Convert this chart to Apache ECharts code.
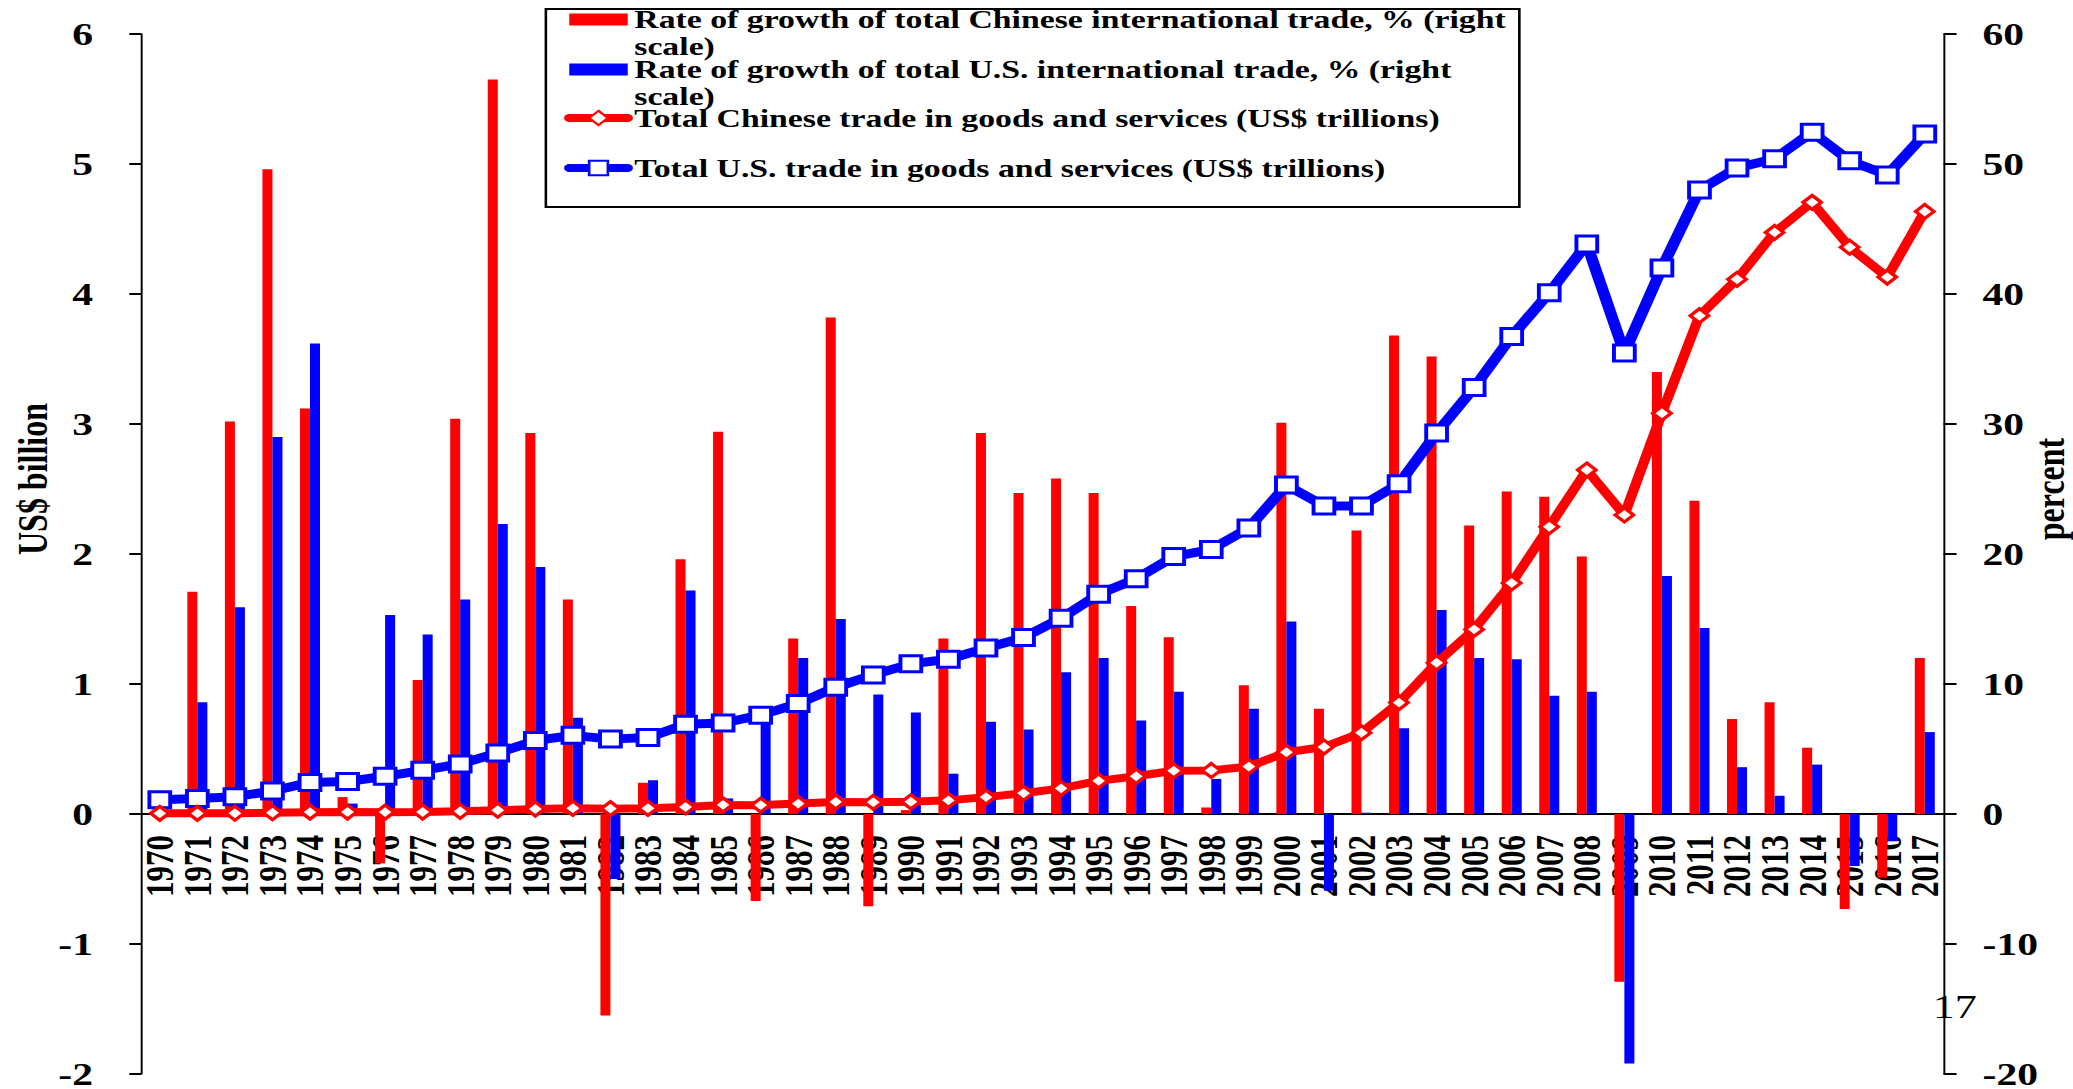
<!DOCTYPE html>
<html>
<head>
<meta charset="utf-8">
<title>China and U.S. trade</title>
<script src="https://cdn.jsdelivr.net/npm/echarts@6/dist/echarts.min.js"></script>
<style>
    html, body {
        margin: 0;
        padding: 0;
        background: #fff;
        overflow: hidden;
    }
    /* the original picture is stretched sideways, so the chart is drawn narrow and widened */
    #chart {
        width: 1595px;
        height: 1089px;
        transform: scaleX(1.2997);
        transform-origin: 0 0;
    }
</style>
</head>
<body>
<div id="chart"></div>
<script>
var years = [];
for (let y = 1970; y <= 2017; y++) {
    years.push(String(y));
}

// growth rates, % (right scale)
var chinaGrowth = [null, 17.1, 30.2, 49.6, 31.2, 1.3, -3.8, 10.3, 30.4, 56.5,
    29.3, 16.5, -15.5, 2.4, 19.6, 29.4, -6.7, 13.5, 38.2, -7.1,
    0.3, 13.5, 29.3, 24.7, 25.8, 24.7, 16.0, 13.6, 0.5, 9.9,
    30.1, 8.1, 21.8, 36.8, 35.2, 22.2, 24.8, 24.4, 19.8, -12.9,
    34.0, 24.1, 7.3, 8.6, 5.1, -7.3, -4.9, 12.0];
var usGrowth = [null, 8.6, 15.9, 29.0, 36.2, 0.8, 15.3, 13.8, 16.5, 22.3,
    19.0, 7.4, -5.0, 2.6, 17.2, 1.2, 7.5, 12.0, 15.0, 9.2,
    7.8, 3.1, 7.1, 6.5, 10.9, 12.0, 7.2, 9.4, 2.7, 8.1,
    14.8, -5.9, 0.1, 6.6, 15.7, 12.0, 11.9, 9.1, 9.4, -19.2,
    18.3, 14.3, 3.6, 1.4, 3.8, -4.0, -2.1, 6.3];

// totals, US$ trillions (left scale)
var chinaTotal = [0.005, 0.005, 0.006, 0.01, 0.014, 0.015, 0.014, 0.015, 0.021, 0.029,
    0.038, 0.044, 0.041, 0.044, 0.054, 0.07, 0.068, 0.08, 0.093, 0.09,
    0.094, 0.105, 0.13, 0.16, 0.197, 0.255, 0.29, 0.333, 0.335, 0.365,
    0.475, 0.515, 0.625, 0.857, 1.163, 1.42, 1.777, 2.21, 2.646, 2.30,
    3.083, 3.833, 4.113, 4.474, 4.705, 4.36, 4.13, 4.635];
var usTotal = [0.11, 0.12, 0.133, 0.177, 0.243, 0.25, 0.29, 0.336, 0.385, 0.47,
    0.565, 0.605, 0.576, 0.588, 0.69, 0.70, 0.76, 0.85, 0.975, 1.07,
    1.155, 1.19, 1.276, 1.357, 1.505, 1.69, 1.81, 1.98, 2.035, 2.2,
    2.53, 2.37, 2.37, 2.54, 2.93, 3.28, 3.674, 4.01, 4.385, 3.547,
    4.20, 4.80, 4.97, 5.04, 5.245, 5.025, 4.915, 5.23];

var names = [
    'Rate of growth of total Chinese international trade, % (right scale)',
    'Rate of growth of total U.S. international trade, % (right scale)',
    'Total Chinese trade in goods and services (US$ trillions)',
    'Total U.S. trade in goods and services (US$ trillions)'
];

var FONT = "'Liberation Serif', 'Times New Roman', serif";
var legendText = {
    fontFamily: FONT,
    fontWeight: 'bold',
    fontSize: 26,
    lineHeight: 27,
    color: '#000'
};
// leading empty line keeps the first line level with the swatch, "scale)" hangs below
var wrapName = function (name) {
    return '\n' + name.replace(' scale)', '\nscale)');
};
var tickLabel = {
    fontFamily: FONT,
    fontWeight: 'bold',
    fontSize: 32,
    color: '#000'
};

var myChart = echarts.init(document.getElementById('chart'), null, { renderer: 'svg' });

var option = {
    animation: false,
    backgroundColor: '#fff',
    grid: {
        left: 108.5,
        right: 99.6,
        top: 34,
        bottom: 15,
        outerBoundsMode: 'none'
    },
    legend: [{
        data: [names[0]],
        left: 438,
        top: -21,
        padding: 0,
        icon: 'rect',
        itemWidth: 45,
        itemHeight: 12,
        formatter: wrapName,
        textStyle: legendText
    }, {
        data: [names[1]],
        left: 438,
        top: 29,
        padding: 0,
        icon: 'rect',
        itemWidth: 45,
        itemHeight: 12,
        formatter: wrapName,
        textStyle: legendText
    }, {
        data: [names[2]],
        left: 434,
        top: 104.5,
        padding: 0,
        itemWidth: 45,
        itemHeight: 18,
        lineStyle: { width: 8, cap: 'round' },
        textStyle: legendText
    }, {
        data: [names[3]],
        left: 434,
        top: 154.5,
        padding: 0,
        itemWidth: 45,
        itemHeight: 18,
        lineStyle: { width: 8, cap: 'round' },
        textStyle: legendText
    }],
    xAxis: {
        type: 'category',
        data: years,
        boundaryGap: true,
        position: 'bottom',
        // lift the whole axis up to the zero line (grid bottom 1074 -> zero at 814)
        offset: -260,
        axisLine: {
            onZero: false,
            lineStyle: { color: '#000', width: 2 }
        },
        axisTick: {
            inside: true,
            length: 8,
            interval: 0,
            lineStyle: { color: '#000', width: 1.5 }
        },
        axisLabel: Object.assign({
            rotate: 90,
            interval: 0,
            margin: 21,
            hideOverlap: false
        }, tickLabel, { fontSize: 31 }),
        splitLine: { show: false }
    },
    yAxis: [{
        type: 'value',
        position: 'left',
        min: -2,
        max: 6,
        interval: 1,
        axisLine: { show: true, lineStyle: { color: '#000', width: 1.5 } },
        axisTick: { show: true, length: 9, lineStyle: { color: '#000', width: 2 } },
        axisLabel: Object.assign({ margin: 37 }, tickLabel),
        splitLine: { show: false }
    }, {
        type: 'value',
        position: 'right',
        min: -20,
        max: 60,
        interval: 10,
        axisLine: { show: true, lineStyle: { color: '#000', width: 1.5 } },
        axisTick: { show: true, length: 10, lineStyle: { color: '#000', width: 2 } },
        axisLabel: Object.assign({ margin: 30 }, tickLabel),
        splitLine: { show: false }
    }],
    series: [{
        name: names[0],
        type: 'bar',
        yAxisIndex: 1,
        data: chinaGrowth,
        barWidth: 7.7,
        barGap: '0%',
        itemStyle: { color: '#FF0000' }
    }, {
        name: names[1],
        type: 'bar',
        yAxisIndex: 1,
        data: usGrowth,
        barWidth: 7.7,
        barGap: '0%',
        itemStyle: { color: '#0000FF' }
    }, {
        name: names[3],
        type: 'line',
        yAxisIndex: 0,
        data: usTotal,
        symbol: 'rect',
        symbolSize: 16,
        showAllSymbol: true,
        lineStyle: { color: '#0000FF', width: 9 },
        itemStyle: { color: '#fff', borderColor: '#0000FF', borderWidth: 3 }
    }, {
        name: names[2],
        type: 'line',
        yAxisIndex: 0,
        data: chinaTotal,
        symbol: 'diamond',
        symbolSize: 14,
        showAllSymbol: true,
        lineStyle: { color: '#FF0000', width: 8 },
        itemStyle: { color: '#fff', borderColor: '#FF0000', borderWidth: 3 }
    }],
    graphic: {
        elements: [{
            // legend frame
            type: 'rect',
            shape: { x: 420, y: 9, width: 749, height: 198 },
            style: { fill: 'none', stroke: '#000', lineWidth: 2 }
        }, {
            type: 'text',
            x: 25.4,
            y: 479,
            rotation: Math.PI / 2,
            style: {
                text: 'US$ billion',
                font: 'bold 32px ' + FONT,
                fill: '#000',
                align: 'center',
                verticalAlign: 'middle',
                textAlign: 'center',
                textVerticalAlign: 'middle'
            }
        }, {
            type: 'text',
            x: 1577,
            y: 489,
            rotation: Math.PI / 2,
            style: {
                text: 'percent',
                font: 'bold 32px ' + FONT,
                fill: '#000',
                align: 'center',
                verticalAlign: 'middle',
                textAlign: 'center',
                textVerticalAlign: 'middle'
            }
        }, {
            // slide number
            type: 'text',
            x: 1504,
            y: 1007,
            style: {
                text: '17',
                font: '34px ' + FONT,
                fill: '#000',
                align: 'center',
                verticalAlign: 'middle',
                textAlign: 'center',
                textVerticalAlign: 'middle'
            }
        }]
    }
};

myChart.setOption(option);
</script>
</body>
</html>
